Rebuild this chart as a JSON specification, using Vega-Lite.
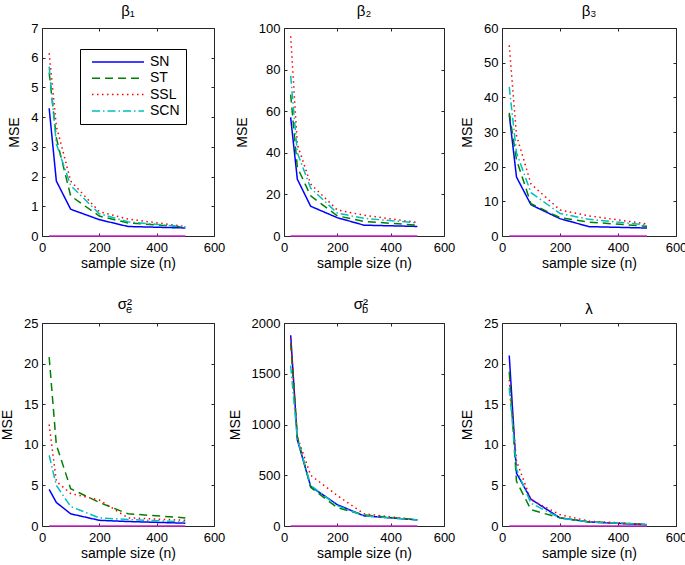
{
  "$schema": "https://vega.github.io/schema/vega-lite/v6.json",
  "autosize": {"type": "pad"},
  "padding": {"left": 0, "top": 3, "right": 0, "bottom": 0},
  "background": "white",
  "datasets": {
    "mse": [
      {"param": "b1", "model": "SN", "n": 25, "mse": 4.3}, {"param": "b1", "model": "SN", "n": 50, "mse": 1.85}, {"param": "b1", "model": "SN", "n": 100, "mse": 0.9}, {"param": "b1", "model": "SN", "n": 200, "mse": 0.55}, {"param": "b1", "model": "SN", "n": 300, "mse": 0.32}, {"param": "b1", "model": "SN", "n": 500, "mse": 0.27},
      {"param": "b1", "model": "ST", "n": 25, "mse": 5.5}, {"param": "b1", "model": "ST", "n": 50, "mse": 3.3}, {"param": "b1", "model": "ST", "n": 100, "mse": 1.35}, {"param": "b1", "model": "ST", "n": 200, "mse": 0.67}, {"param": "b1", "model": "ST", "n": 300, "mse": 0.44}, {"param": "b1", "model": "ST", "n": 500, "mse": 0.3},
      {"param": "b1", "model": "SSL", "n": 25, "mse": 6.15}, {"param": "b1", "model": "SSL", "n": 50, "mse": 3.7}, {"param": "b1", "model": "SSL", "n": 100, "mse": 1.85}, {"param": "b1", "model": "SSL", "n": 200, "mse": 0.82}, {"param": "b1", "model": "SSL", "n": 300, "mse": 0.57}, {"param": "b1", "model": "SSL", "n": 500, "mse": 0.32},
      {"param": "b1", "model": "SCN", "n": 25, "mse": 5.7}, {"param": "b1", "model": "SCN", "n": 50, "mse": 3.1}, {"param": "b1", "model": "SCN", "n": 100, "mse": 1.7}, {"param": "b1", "model": "SCN", "n": 200, "mse": 0.75}, {"param": "b1", "model": "SCN", "n": 300, "mse": 0.48}, {"param": "b1", "model": "SCN", "n": 500, "mse": 0.3},

      {"param": "b2", "model": "SN", "n": 25, "mse": 57}, {"param": "b2", "model": "SN", "n": 50, "mse": 27.3}, {"param": "b2", "model": "SN", "n": 100, "mse": 14.3}, {"param": "b2", "model": "SN", "n": 200, "mse": 8.8}, {"param": "b2", "model": "SN", "n": 300, "mse": 5.2}, {"param": "b2", "model": "SN", "n": 500, "mse": 4.6},
      {"param": "b2", "model": "ST", "n": 25, "mse": 68}, {"param": "b2", "model": "ST", "n": 50, "mse": 33}, {"param": "b2", "model": "ST", "n": 100, "mse": 19.3}, {"param": "b2", "model": "ST", "n": 200, "mse": 9.7}, {"param": "b2", "model": "ST", "n": 300, "mse": 7}, {"param": "b2", "model": "ST", "n": 500, "mse": 5.2},
      {"param": "b2", "model": "SSL", "n": 25, "mse": 96}, {"param": "b2", "model": "SSL", "n": 50, "mse": 44}, {"param": "b2", "model": "SSL", "n": 100, "mse": 25}, {"param": "b2", "model": "SSL", "n": 200, "mse": 12.5}, {"param": "b2", "model": "SSL", "n": 300, "mse": 10}, {"param": "b2", "model": "SSL", "n": 500, "mse": 6.5},
      {"param": "b2", "model": "SCN", "n": 25, "mse": 77}, {"param": "b2", "model": "SCN", "n": 50, "mse": 40}, {"param": "b2", "model": "SCN", "n": 100, "mse": 23}, {"param": "b2", "model": "SCN", "n": 200, "mse": 11}, {"param": "b2", "model": "SCN", "n": 300, "mse": 8.5}, {"param": "b2", "model": "SCN", "n": 500, "mse": 6.3},

      {"param": "b3", "model": "SN", "n": 25, "mse": 35}, {"param": "b3", "model": "SN", "n": 50, "mse": 17}, {"param": "b3", "model": "SN", "n": 100, "mse": 9}, {"param": "b3", "model": "SN", "n": 200, "mse": 5}, {"param": "b3", "model": "SN", "n": 300, "mse": 2.7}, {"param": "b3", "model": "SN", "n": 500, "mse": 2.3},
      {"param": "b3", "model": "ST", "n": 25, "mse": 35.5}, {"param": "b3", "model": "ST", "n": 50, "mse": 22}, {"param": "b3", "model": "ST", "n": 100, "mse": 9.3}, {"param": "b3", "model": "ST", "n": 200, "mse": 5.3}, {"param": "b3", "model": "ST", "n": 300, "mse": 4}, {"param": "b3", "model": "ST", "n": 500, "mse": 2.8},
      {"param": "b3", "model": "SSL", "n": 25, "mse": 55}, {"param": "b3", "model": "SSL", "n": 50, "mse": 29}, {"param": "b3", "model": "SSL", "n": 100, "mse": 15}, {"param": "b3", "model": "SSL", "n": 200, "mse": 7.5}, {"param": "b3", "model": "SSL", "n": 300, "mse": 5.8}, {"param": "b3", "model": "SSL", "n": 500, "mse": 3.5},
      {"param": "b3", "model": "SCN", "n": 25, "mse": 43}, {"param": "b3", "model": "SCN", "n": 50, "mse": 24}, {"param": "b3", "model": "SCN", "n": 100, "mse": 12.5}, {"param": "b3", "model": "SCN", "n": 200, "mse": 6.5}, {"param": "b3", "model": "SCN", "n": 300, "mse": 4.8}, {"param": "b3", "model": "SCN", "n": 500, "mse": 3.2},

      {"param": "se", "model": "SN", "n": 25, "mse": 4.5}, {"param": "se", "model": "SN", "n": 50, "mse": 2.9}, {"param": "se", "model": "SN", "n": 100, "mse": 1.5}, {"param": "se", "model": "SN", "n": 200, "mse": 0.7}, {"param": "se", "model": "SN", "n": 300, "mse": 0.55}, {"param": "se", "model": "SN", "n": 500, "mse": 0.35},
      {"param": "se", "model": "ST", "n": 25, "mse": 20.8}, {"param": "se", "model": "ST", "n": 50, "mse": 10}, {"param": "se", "model": "ST", "n": 100, "mse": 4.6}, {"param": "se", "model": "ST", "n": 200, "mse": 2.9}, {"param": "se", "model": "ST", "n": 300, "mse": 1.5}, {"param": "se", "model": "ST", "n": 500, "mse": 1.0},
      {"param": "se", "model": "SSL", "n": 25, "mse": 12.5}, {"param": "se", "model": "SSL", "n": 50, "mse": 5.5}, {"param": "se", "model": "SSL", "n": 100, "mse": 4.0}, {"param": "se", "model": "SSL", "n": 200, "mse": 3.2}, {"param": "se", "model": "SSL", "n": 300, "mse": 1.0}, {"param": "se", "model": "SSL", "n": 500, "mse": 0.7},
      {"param": "se", "model": "SCN", "n": 25, "mse": 8.7}, {"param": "se", "model": "SCN", "n": 50, "mse": 5.0}, {"param": "se", "model": "SCN", "n": 100, "mse": 2.4}, {"param": "se", "model": "SCN", "n": 200, "mse": 1.0}, {"param": "se", "model": "SCN", "n": 300, "mse": 0.8}, {"param": "se", "model": "SCN", "n": 500, "mse": 0.5},

      {"param": "sb", "model": "SN", "n": 25, "mse": 1880}, {"param": "sb", "model": "SN", "n": 50, "mse": 850}, {"param": "sb", "model": "SN", "n": 100, "mse": 390}, {"param": "sb", "model": "SN", "n": 200, "mse": 210}, {"param": "sb", "model": "SN", "n": 300, "mse": 100}, {"param": "sb", "model": "SN", "n": 500, "mse": 60},
      {"param": "sb", "model": "ST", "n": 25, "mse": 1800}, {"param": "sb", "model": "ST", "n": 50, "mse": 880}, {"param": "sb", "model": "ST", "n": 100, "mse": 380}, {"param": "sb", "model": "ST", "n": 200, "mse": 180}, {"param": "sb", "model": "ST", "n": 300, "mse": 110}, {"param": "sb", "model": "ST", "n": 500, "mse": 60},
      {"param": "sb", "model": "SSL", "n": 25, "mse": 1850}, {"param": "sb", "model": "SSL", "n": 50, "mse": 880}, {"param": "sb", "model": "SSL", "n": 100, "mse": 500}, {"param": "sb", "model": "SSL", "n": 200, "mse": 300}, {"param": "sb", "model": "SSL", "n": 300, "mse": 120}, {"param": "sb", "model": "SSL", "n": 500, "mse": 60},
      {"param": "sb", "model": "SCN", "n": 25, "mse": 1580}, {"param": "sb", "model": "SCN", "n": 50, "mse": 860}, {"param": "sb", "model": "SCN", "n": 100, "mse": 400}, {"param": "sb", "model": "SCN", "n": 200, "mse": 200}, {"param": "sb", "model": "SCN", "n": 300, "mse": 100}, {"param": "sb", "model": "SCN", "n": 500, "mse": 60},

      {"param": "lam", "model": "SN", "n": 25, "mse": 21}, {"param": "lam", "model": "SN", "n": 50, "mse": 6.5}, {"param": "lam", "model": "SN", "n": 100, "mse": 3.3}, {"param": "lam", "model": "SN", "n": 200, "mse": 1.0}, {"param": "lam", "model": "SN", "n": 300, "mse": 0.5}, {"param": "lam", "model": "SN", "n": 500, "mse": 0.15},
      {"param": "lam", "model": "ST", "n": 25, "mse": 19}, {"param": "lam", "model": "ST", "n": 50, "mse": 5.5}, {"param": "lam", "model": "ST", "n": 100, "mse": 2.0}, {"param": "lam", "model": "ST", "n": 200, "mse": 1.0}, {"param": "lam", "model": "ST", "n": 300, "mse": 0.5}, {"param": "lam", "model": "ST", "n": 500, "mse": 0.2},
      {"param": "lam", "model": "SSL", "n": 25, "mse": 18}, {"param": "lam", "model": "SSL", "n": 50, "mse": 8}, {"param": "lam", "model": "SSL", "n": 100, "mse": 3.2}, {"param": "lam", "model": "SSL", "n": 200, "mse": 1.4}, {"param": "lam", "model": "SSL", "n": 300, "mse": 0.6}, {"param": "lam", "model": "SSL", "n": 500, "mse": 0.2},
      {"param": "lam", "model": "SCN", "n": 25, "mse": 17}, {"param": "lam", "model": "SCN", "n": 50, "mse": 7}, {"param": "lam", "model": "SCN", "n": 100, "mse": 2.8}, {"param": "lam", "model": "SCN", "n": 200, "mse": 1.0}, {"param": "lam", "model": "SCN", "n": 300, "mse": 0.5}, {"param": "lam", "model": "SCN", "n": 500, "mse": 0.2}
    ],
    "zero": [{"n": 25, "mse": 0}, {"n": 500, "mse": 0}]
  },
  "vconcat": [
    {
      "bounds": "flush",
      "spacing": 70,
      "hconcat": [
        {
          "width": 172, "height": 208,
          "title": {"text": "β₁"},
          "resolve": {"axis": {"x": "independent", "y": "independent"}},
          "layer": [
            {
              "data": {"name": "mse"},
              "transform": [{"filter": "datum.param === 'b1'"}],
              "mark": {"type": "line", "strokeWidth": 1.5},
              "encoding": {
                "x": {"field": "n", "type": "quantitative", "scale": {"domain": [0, 600], "nice": false}, "axis": {"title": "sample size (n)", "values": [0, 200, 400, 600]}},
                "y": {"field": "mse", "type": "quantitative", "scale": {"domain": [0, 7], "nice": false}, "axis": {"title": "MSE", "values": [0, 1, 2, 3, 4, 5, 6, 7]}},
                "color": {"field": "model", "type": "nominal", "title": null, "scale": {"domain": ["SN", "ST", "SSL", "SCN"], "range": ["#0000ff", "#008000", "#ff0000", "#00bfbf"]}},
                "strokeDash": {"field": "model", "type": "nominal", "title": null, "scale": {"domain": ["SN", "ST", "SSL", "SCN"], "range": [[1, 0], [8, 5], [1.5, 3.5], [8, 3, 1.5, 3]]}}
              }
            },
            {
              "data": {"name": "zero"},
              "mark": {"type": "line", "color": "#cc22cc", "strokeWidth": 1.5},
              "encoding": {
                "x": {"field": "n", "type": "quantitative", "scale": {"domain": [0, 600], "nice": false}, "axis": {"orient": "top", "labels": false, "title": null, "values": [0, 200, 400, 600]}},
                "y": {"field": "mse", "type": "quantitative", "scale": {"domain": [0, 7], "nice": false}, "axis": {"orient": "right", "labels": false, "title": null, "values": [0, 1, 2, 3, 4, 5, 6, 7]}}
              }
            }
          ]
        },
        {
          "bounds": "flush",
          "spacing": 58,
          "hconcat": [
            {
              "width": 160, "height": 208,
              "title": {"text": "β₂"},
              "resolve": {"axis": {"x": "independent", "y": "independent"}},
              "layer": [
                {
                  "data": {"name": "mse"},
                  "transform": [{"filter": "datum.param === 'b2'"}],
                  "mark": {"type": "line", "strokeWidth": 1.5},
                  "encoding": {
                    "x": {"field": "n", "type": "quantitative", "scale": {"domain": [0, 600], "nice": false}, "axis": {"title": "sample size (n)", "values": [0, 200, 400, 600]}},
                    "y": {"field": "mse", "type": "quantitative", "scale": {"domain": [0, 100], "nice": false}, "axis": {"title": "MSE", "values": [0, 20, 40, 60, 80, 100]}},
                    "color": {"field": "model", "type": "nominal", "title": null, "scale": {"domain": ["SN", "ST", "SSL", "SCN"], "range": ["#0000ff", "#008000", "#ff0000", "#00bfbf"]}},
                    "strokeDash": {"field": "model", "type": "nominal", "title": null, "scale": {"domain": ["SN", "ST", "SSL", "SCN"], "range": [[1, 0], [8, 5], [1.5, 3.5], [8, 3, 1.5, 3]]}}
                  }
                },
                {
                  "data": {"name": "zero"},
                  "mark": {"type": "line", "color": "#cc22cc", "strokeWidth": 1.5},
                  "encoding": {
                    "x": {"field": "n", "type": "quantitative", "scale": {"domain": [0, 600], "nice": false}, "axis": {"orient": "top", "labels": false, "title": null, "values": [0, 200, 400, 600]}},
                    "y": {"field": "mse", "type": "quantitative", "scale": {"domain": [0, 100], "nice": false}, "axis": {"orient": "right", "labels": false, "title": null, "values": [0, 20, 40, 60, 80, 100]}}
                  }
                }
              ]
            },
            {
              "width": 174, "height": 208,
              "title": {"text": "β₃"},
              "resolve": {"axis": {"x": "independent", "y": "independent"}},
              "layer": [
                {
                  "data": {"name": "mse"},
                  "transform": [{"filter": "datum.param === 'b3'"}],
                  "mark": {"type": "line", "strokeWidth": 1.5},
                  "encoding": {
                    "x": {"field": "n", "type": "quantitative", "scale": {"domain": [0, 600], "nice": false}, "axis": {"title": "sample size (n)", "values": [0, 200, 400, 600]}},
                    "y": {"field": "mse", "type": "quantitative", "scale": {"domain": [0, 60], "nice": false}, "axis": {"title": "MSE", "values": [0, 10, 20, 30, 40, 50, 60]}},
                    "color": {"field": "model", "type": "nominal", "title": null, "scale": {"domain": ["SN", "ST", "SSL", "SCN"], "range": ["#0000ff", "#008000", "#ff0000", "#00bfbf"]}},
                    "strokeDash": {"field": "model", "type": "nominal", "title": null, "scale": {"domain": ["SN", "ST", "SSL", "SCN"], "range": [[1, 0], [8, 5], [1.5, 3.5], [8, 3, 1.5, 3]]}}
                  }
                },
                {
                  "data": {"name": "zero"},
                  "mark": {"type": "line", "color": "#cc22cc", "strokeWidth": 1.5},
                  "encoding": {
                    "x": {"field": "n", "type": "quantitative", "scale": {"domain": [0, 600], "nice": false}, "axis": {"orient": "top", "labels": false, "title": null, "values": [0, 200, 400, 600]}},
                    "y": {"field": "mse", "type": "quantitative", "scale": {"domain": [0, 60], "nice": false}, "axis": {"orient": "right", "labels": false, "title": null, "values": [0, 10, 20, 30, 40, 50, 60]}}
                  }
                }
              ]
            }
          ]
        }
      ]
    },
    {
      "bounds": "flush",
      "spacing": 70,
      "hconcat": [
        {
          "width": 172, "height": 203,
          "title": {"text": "σ²", "subtitle": "e", "align": "right", "dx": 4, "subtitlePadding": -8, "offset": 2},
          "resolve": {"axis": {"x": "independent", "y": "independent"}},
          "layer": [
            {
              "data": {"name": "mse"},
              "transform": [{"filter": "datum.param === 'se'"}],
              "mark": {"type": "line", "strokeWidth": 1.5},
              "encoding": {
                "x": {"field": "n", "type": "quantitative", "scale": {"domain": [0, 600], "nice": false}, "axis": {"title": "sample size (n)", "values": [0, 200, 400, 600]}},
                "y": {"field": "mse", "type": "quantitative", "scale": {"domain": [0, 25], "nice": false}, "axis": {"title": "MSE", "values": [0, 5, 10, 15, 20, 25]}},
                "color": {"field": "model", "type": "nominal", "title": null, "scale": {"domain": ["SN", "ST", "SSL", "SCN"], "range": ["#0000ff", "#008000", "#ff0000", "#00bfbf"]}},
                "strokeDash": {"field": "model", "type": "nominal", "title": null, "scale": {"domain": ["SN", "ST", "SSL", "SCN"], "range": [[1, 0], [8, 5], [1.5, 3.5], [8, 3, 1.5, 3]]}}
              }
            },
            {
              "data": {"name": "zero"},
              "mark": {"type": "line", "color": "#cc22cc", "strokeWidth": 1.5},
              "encoding": {
                "x": {"field": "n", "type": "quantitative", "scale": {"domain": [0, 600], "nice": false}, "axis": {"orient": "top", "labels": false, "title": null, "values": [0, 200, 400, 600]}},
                "y": {"field": "mse", "type": "quantitative", "scale": {"domain": [0, 25], "nice": false}, "axis": {"orient": "right", "labels": false, "title": null, "values": [0, 5, 10, 15, 20, 25]}}
              }
            }
          ]
        },
        {
          "bounds": "flush",
          "spacing": 58,
          "hconcat": [
            {
              "width": 160, "height": 203,
              "title": {"text": "σ²", "subtitle": "b", "align": "right", "dx": 4, "subtitlePadding": -8, "offset": 2},
              "resolve": {"axis": {"x": "independent", "y": "independent"}},
              "layer": [
                {
                  "data": {"name": "mse"},
                  "transform": [{"filter": "datum.param === 'sb'"}],
                  "mark": {"type": "line", "strokeWidth": 1.5},
                  "encoding": {
                    "x": {"field": "n", "type": "quantitative", "scale": {"domain": [0, 600], "nice": false}, "axis": {"title": "sample size (n)", "values": [0, 200, 400, 600]}},
                    "y": {"field": "mse", "type": "quantitative", "scale": {"domain": [0, 2000], "nice": false}, "axis": {"title": "MSE", "values": [0, 500, 1000, 1500, 2000], "format": "d"}},
                    "color": {"field": "model", "type": "nominal", "title": null, "scale": {"domain": ["SN", "ST", "SSL", "SCN"], "range": ["#0000ff", "#008000", "#ff0000", "#00bfbf"]}},
                    "strokeDash": {"field": "model", "type": "nominal", "title": null, "scale": {"domain": ["SN", "ST", "SSL", "SCN"], "range": [[1, 0], [8, 5], [1.5, 3.5], [8, 3, 1.5, 3]]}}
                  }
                },
                {
                  "data": {"name": "zero"},
                  "mark": {"type": "line", "color": "#cc22cc", "strokeWidth": 1.5},
                  "encoding": {
                    "x": {"field": "n", "type": "quantitative", "scale": {"domain": [0, 600], "nice": false}, "axis": {"orient": "top", "labels": false, "title": null, "values": [0, 200, 400, 600]}},
                    "y": {"field": "mse", "type": "quantitative", "scale": {"domain": [0, 2000], "nice": false}, "axis": {"orient": "right", "labels": false, "title": null, "values": [0, 500, 1000, 1500, 2000]}}
                  }
                }
              ]
            },
            {
              "width": 174, "height": 203,
              "title": {"text": "λ", "offset": 0},
              "resolve": {"axis": {"x": "independent", "y": "independent"}},
              "layer": [
                {
                  "data": {"name": "mse"},
                  "transform": [{"filter": "datum.param === 'lam'"}],
                  "mark": {"type": "line", "strokeWidth": 1.5},
                  "encoding": {
                    "x": {"field": "n", "type": "quantitative", "scale": {"domain": [0, 600], "nice": false}, "axis": {"title": "sample size (n)", "values": [0, 200, 400, 600]}},
                    "y": {"field": "mse", "type": "quantitative", "scale": {"domain": [0, 25], "nice": false}, "axis": {"title": "MSE", "values": [0, 5, 10, 15, 20, 25]}},
                    "color": {"field": "model", "type": "nominal", "title": null, "scale": {"domain": ["SN", "ST", "SSL", "SCN"], "range": ["#0000ff", "#008000", "#ff0000", "#00bfbf"]}},
                    "strokeDash": {"field": "model", "type": "nominal", "title": null, "scale": {"domain": ["SN", "ST", "SSL", "SCN"], "range": [[1, 0], [8, 5], [1.5, 3.5], [8, 3, 1.5, 3]]}}
                  }
                },
                {
                  "data": {"name": "zero"},
                  "mark": {"type": "line", "color": "#cc22cc", "strokeWidth": 1.5},
                  "encoding": {
                    "x": {"field": "n", "type": "quantitative", "scale": {"domain": [0, 600], "nice": false}, "axis": {"orient": "top", "labels": false, "title": null, "values": [0, 200, 400, 600]}},
                    "y": {"field": "mse", "type": "quantitative", "scale": {"domain": [0, 25], "nice": false}, "axis": {"orient": "right", "labels": false, "title": null, "values": [0, 5, 10, 15, 20, 25]}}
                  }
                }
              ]
            }
          ]
        }
      ]
    }
  ],
  "spacing": 295,
  "bounds": "flush",
  "config": {
    "font": "Liberation Sans",
    "view": {"stroke": "#262626", "strokeWidth": 1},
    "axis": {"grid": false, "domain": false, "tickSize": -3, "tickColor": "#262626", "labelFontSize": 13, "labelColor": "#000000", "titleFontSize": 14, "titleFontWeight": "normal", "titleColor": "#000000", "labelFlush": false},
    "axisX": {"labelPadding": 8, "titlePadding": 2},
    "axisY": {"labelPadding": 7, "titlePadding": 9},
    "title": {"fontSize": 15, "fontWeight": "normal", "offset": 3, "color": "#000000", "subtitleFontSize": 11, "subtitleColor": "#000000"},
    "legend": {
      "orient": "none", "legendX": 38, "legendY": 21,
      "fillColor": "white", "strokeColor": "#000000", "padding": 6,
      "labelFontSize": 14, "labelColor": "#000000",
      "symbolType": "M-5.2,0L5.2,0", "symbolSize": 100, "symbolStrokeWidth": 1.5,
      "symbolOffset": 25, "labelOffset": 25, "rowPadding": 2.3,
      "labelExpr": "datum.label + '\u00a0\u00a0\u00a0'"
    }
  }
}
